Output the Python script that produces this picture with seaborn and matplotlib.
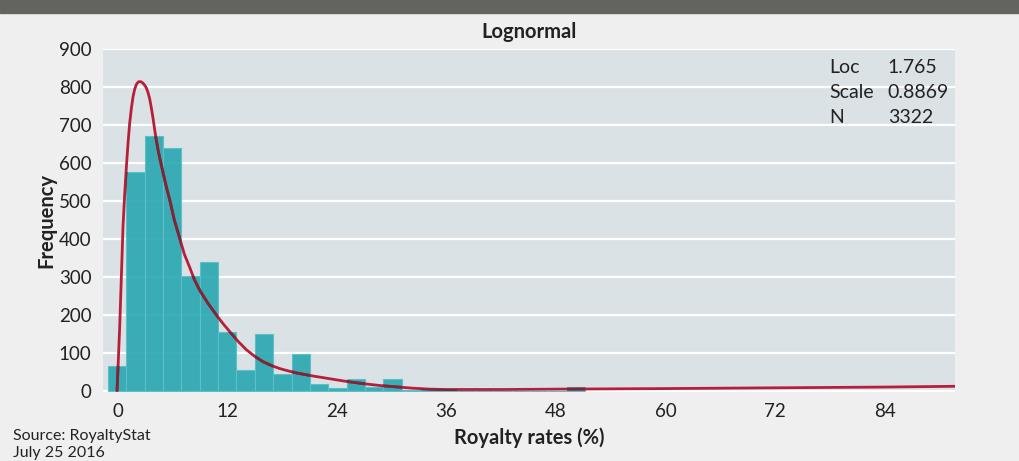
import numpy as np
import pandas as pd
import matplotlib
matplotlib.use("Agg")
import matplotlib.pyplot as plt
from matplotlib.patches import Rectangle
from matplotlib.path import Path
import seaborn as sns

# ---- data ----
bin_start = -1.05
bin_width = 2.008
counts = [66, 577, 672, 639, 303, 339, 155, 55, 151, 44, 97, 18, 7, 30, 9, 30,
          1, 4, 4, 0, 0, 0, 0, 0, 0, 11]

curve_x = [-0.07, 0.22, 0.40, 0.58, 0.77, 0.95, 1.13, 1.31, 1.50, 1.68, 1.86, 2.05,
           2.25, 2.41, 2.60, 2.80, 3.00, 3.14, 3.32, 3.50, 3.69, 3.87, 4.05, 4.23,
           4.42, 4.60, 4.90, 5.30, 5.70, 6.20, 6.79, 7.30, 7.89, 8.40, 8.98, 9.90,
           10.8, 11.5, 12.27, 13.2, 14.1, 15.0, 15.9, 16.8, 17.7, 18.6, 19.6, 21.4,
           23.2, 25.0, 26.9, 28.7, 30.5, 32.3, 34.2, 36.0, 42.0, 48.0, 60.0, 72.0,
           84.0, 91.7]
curve_y = [0, 169, 300, 432, 520, 590, 652, 705, 745, 775, 795, 808,
           814, 815, 814, 810, 804, 798, 786, 770, 745, 718, 688, 660,
           635, 614, 582, 540, 503, 450, 402, 360, 325, 293, 265, 230,
           200, 178, 156, 130, 108, 91, 77, 67, 59, 53, 47, 39,
           32, 25, 19, 14, 10.5, 7, 4.5, 3.5, 3.5, 4.5, 6, 8,
           10, 12]

x_ticks = [0, 12, 24, 36, 48, 60, 72, 84]
y_ticks = [0, 100, 200, 300, 400, 500, 600, 700, 800, 900]

stat_labels = ["Loc", "Scale", "N"]
stat_values = ["1.765", "0.8869", "3322"]

title = "Lognormal"
x_label = "Royalty rates (%)"
y_label = "Frequency"
source_lines = ["Source: RoyaltyStat", "July 25 2016"]

# ---- styling ----
sns.set_theme(style="white")
plt.rcParams["font.family"] = ["Lato", "DejaVu Sans"]

BG = "#efefef"
AX_BG = "#dae2e5"
BAR = "#28a6b1"
RED = "#b51f3a"
DARK_RED = "#7a2838"
TXT = "#222222"

fig = plt.figure(figsize=(10.2, 4.61), dpi=100, facecolor=BG)
ax = fig.add_axes([0.1007, 0.1497, 0.8356, 0.7433])
ax.set_facecolor(AX_BG)

# top band
fig.add_artist(Rectangle((0, 1 - 13.3 / 461), 1, 13.3 / 461,
                         transform=fig.transFigure, color="#64645f", zorder=0))

edges = [bin_start + bin_width * i for i in range(len(counts) + 1)]
centers = [(edges[i] + edges[i + 1]) / 2 for i in range(len(counts))]
df = pd.DataFrame({"rate": centers, "count": counts})

# horizontal grid
ax.set_axisbelow(True)
ax.yaxis.grid(True, color="white", linewidth=1.6)
ax.xaxis.grid(False)

sns.histplot(data=df, x="rate", weights="count", bins=edges, ax=ax,
             color=BAR, alpha=0.9, edgecolor="#5ec0c7", linewidth=0.8, zorder=2)
bars = list(ax.patches)

cdf = pd.DataFrame({"x": curve_x, "y": curve_y})
sns.lineplot(data=cdf, x="x", y="y", ax=ax, color=RED, linewidth=2.0,
             sort=False, estimator=None, zorder=3)
sns.lineplot(data=cdf, x="x", y="y", ax=ax, color=DARK_RED, linewidth=2.0,
             sort=False, estimator=None, zorder=4)
dark_line = ax.lines[-1]
paths = [b.get_path().transformed(b.get_patch_transform()) for b in bars if b.get_height() > 0]
clip = Path.make_compound_path(*paths)
dark_line.set_clip_path(clip, ax.transData)

for s in ax.spines.values():
    s.set_visible(False)

ax.set_xlim(-1.64, 91.67)
ax.set_ylim(-3, 900)
ax.set_xticks(x_ticks)
ax.set_yticks(y_ticks)
ax.tick_params(axis="both", length=0, labelsize=13.5, labelcolor=TXT)
ax.tick_params(axis="x", pad=8)
ax.tick_params(axis="y", pad=8)

ax.set_title(title, fontsize=14.5, fontweight="bold", color=TXT, pad=8)
ax.set_xlabel(x_label, fontsize=14.5, fontweight="bold", color=TXT, labelpad=5)
ax.set_ylabel(y_label, fontsize=14.5, fontweight="bold", color=TXT, labelpad=2)

row_y = [0.932, 0.857, 0.784]
for lab, val, yy in zip(stat_labels, stat_values, row_y):
    ax.text(0.853, yy, lab, transform=ax.transAxes, fontsize=14, color=TXT, va="baseline")
    ax.text(0.921, yy, val, transform=ax.transAxes, fontsize=14, color=TXT, va="baseline")

fig.text(13 / 1020, 1 - 440 / 461, source_lines[0], fontsize=11.5, color=TXT, va="baseline")
fig.text(13 / 1020, 1 - 457 / 461, source_lines[1], fontsize=11.5, color=TXT, va="baseline")

fig.savefig("out.png", dpi=100, facecolor=BG)
